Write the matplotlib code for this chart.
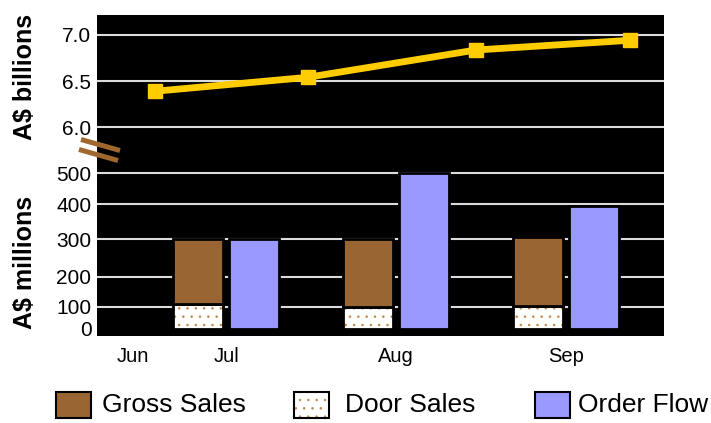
import numpy as np
import matplotlib.pyplot as plt
from matplotlib.patches import Rectangle
from matplotlib.lines import Line2D

plt.rcParams['font.family'] = ['Liberation Sans', 'DejaVu Sans']
plt.rcParams['hatch.linewidth'] = 0.6

# monthly figures
months = ['Jun', 'Jul', 'Aug', 'Sep']
month_pos = [0.45, 1, 2, 3]
bar_pos = [1, 2, 3]
door_sales = [110, 100, 105]      # A$ millions
gross_sales = [190, 200, 200]     # stacked on door sales
order_flow = [300, 500, 395]
line_pos = [0.585, 1.48, 2.47, 3.375]
line_vals = [6.39, 6.54, 6.835, 6.94]   # A$ billions

brown = '#996633'
lilac = '#9999ff'
gold = '#ffcc00'
dot_col = '#c08a50'
grid_col = '#dcdcdc'

# the millions axis is not evenly spaced
m_vals = [-30, 0, 100, 200, 300, 400, 500, 575]
m_h = [0, 6.7, 28.7, 58.7, 96.7, 131.7, 162.7, 185.7]
fwd = lambda v: np.interp(v, m_vals, m_h)
inv = lambda h: np.interp(h, m_h, m_vals)

W, H = 711, 423
fig = plt.figure(figsize=(W / 100, H / 100), dpi=100)
ax_b = fig.add_axes([97 / W, 1 - 150 / H, 567 / W, 135 / H])
ax_m = fig.add_axes([97 / W, 1 - 335.7 / H, 567 / W, 185.7 / H])

for ax in (ax_b, ax_m):
    ax.set_facecolor('black')
    for s in ax.spines.values():
        s.set_visible(False)
    ax.set_xlim(0.241, 3.576)
    ax.tick_params(length=0, labelsize=15, pad=4)

# top: billions line
ax_b.set_ylim(5.755, 7.213)
for v in [6.0, 6.5, 7.0]:
    ax_b.axhline(v, color=grid_col, lw=1.5, zorder=1)
ax_b.set_yticks([6.0, 6.5, 7.0], ['6.0', '6.5', '7.0'])
ax_b.set_xticks([])
ax_b.plot(line_pos, line_vals, color=gold, lw=4.9, marker='s', ms=9.5,
          zorder=3, solid_joinstyle='miter')

# bottom: millions bars
ax_m.set_yscale('function', functions=(fwd, inv))
ax_m.set_ylim(-30, 575)
for v in [100, 200, 300, 400, 500]:
    ax_m.axhline(v, color=grid_col, lw=1.5, zorder=1)
ax_m.set_yticks([0, 100, 200, 300, 400, 500])
ax_m.yaxis.set_minor_locator(plt.NullLocator())
ax_m.set_yticklabels(['0', '100', '200', '300', '400', '500'])

w = 0.29
xs = np.array(bar_pos) - 0.165
xo = np.array(bar_pos) + 0.165
ax_m.bar(xs, door_sales, w, color='white', edgecolor=dot_col, lw=0,
         hatch='..', zorder=2)
ax_m.bar(xs, door_sales, w, fill=False, edgecolor='black', lw=2, zorder=3)
ax_m.bar(xs, gross_sales, w, bottom=door_sales, color=brown,
         edgecolor='black', lw=2, zorder=3)
ax_m.bar(xo, order_flow, w, color=lilac, edgecolor='black', lw=2, zorder=3)
ax_m.set_xticks(month_pos, months, fontsize=14.5)
ax_m.tick_params(axis='x', pad=8)

# axis titles
fig.text(25 / W, 1 - 77 / H, 'A$ billions', rotation=90, fontsize=18,
         fontweight='bold', ha='center', va='center')
fig.text(25 / W, 1 - 262 / H, 'A$ millions', rotation=90, fontsize=18,
         fontweight='bold', ha='center', va='center')

# axis break marks
for (x0, y0, x1, y1) in [(81, 139.5, 120, 150.5), (79, 149.5, 118, 160.5)]:
    fig.add_artist(Line2D([x0 / W, x1 / W], [1 - y0 / H, 1 - y1 / H],
                          color='#a0672e', lw=3.6, solid_capstyle='butt'))

# legend, laid out by hand
labels = ['Gross Sales', 'Door Sales', 'Order Flow']
key_x = [56, 294, 535]
text_x = [102, 345, 578]
faces = [brown, 'white', lilac]
for lab, kx, tx, fc in zip(labels, key_x, text_x, faces):
    if fc == 'white':
        fig.add_artist(Rectangle((kx / W, 1 - 418 / H), 35 / W, 26 / H,
                                 facecolor='white', edgecolor=dot_col, lw=0,
                                 hatch='..', transform=fig.transFigure))
        fc = 'none'
    fig.add_artist(Rectangle((kx / W, 1 - 418 / H), 35 / W, 26 / H,
                             facecolor=fc, edgecolor='black', lw=1.5,
                             transform=fig.transFigure))
    fig.text(tx / W, 1 - 405 / H, lab, fontsize=19, ha='left', va='center')

fig.savefig('out.png', dpi=100)
